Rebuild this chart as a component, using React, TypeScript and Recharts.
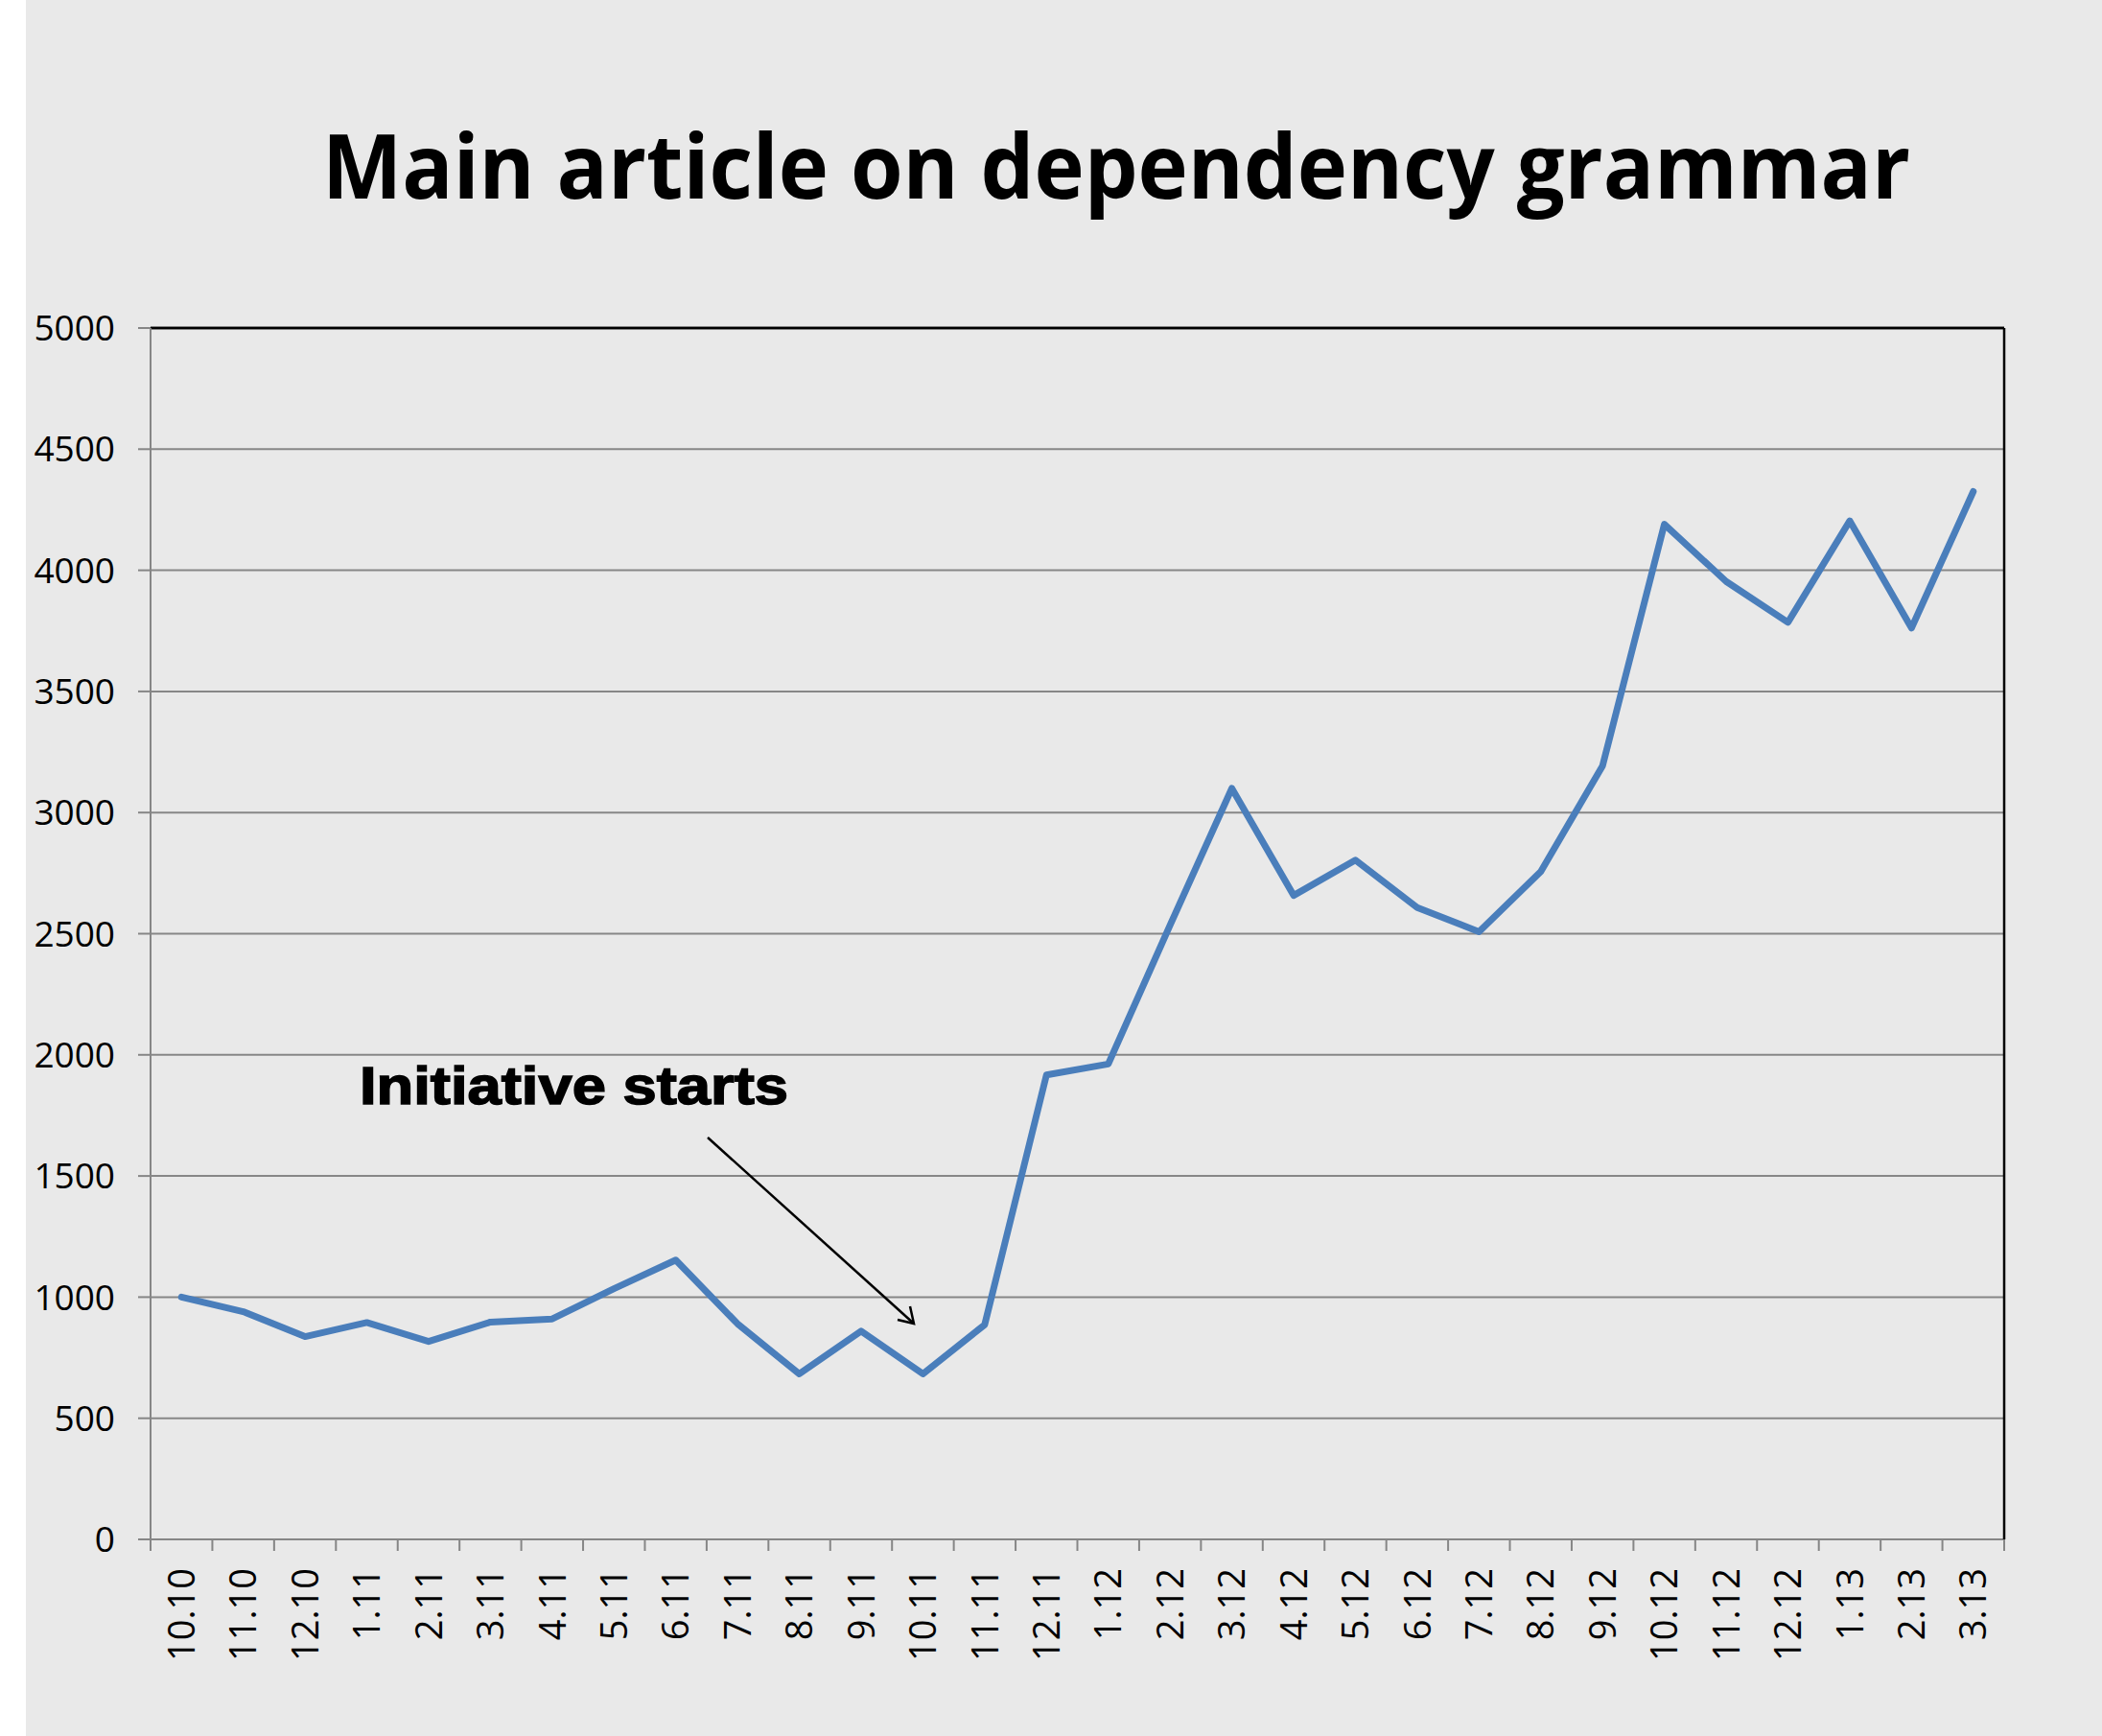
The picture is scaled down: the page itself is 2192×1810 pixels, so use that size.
import React from 'react';
import { LineChart, Line, XAxis, YAxis, CartesianGrid, ReferenceLine } from 'recharts';

// monthly page views, Oct 2010 .. Mar 2013
const months = [
  '10.10', '11.10', '12.10', '1.11', '2.11', '3.11', '4.11', '5.11', '6.11', '7.11',
  '8.11', '9.11', '10.11', '11.11', '12.11', '1.12', '2.12', '3.12', '4.12', '5.12',
  '6.12', '7.12', '8.12', '9.12', '10.12', '11.12', '12.12', '1.13', '2.13', '3.13'
];
const views = [
  1000, 940, 837, 895, 817, 897, 910, 1035, 1153, 890,
  683, 860, 683, 886, 1917, 1962, 2535, 3100, 2658, 2804,
  2608, 2508, 2756, 3193, 4190, 3954, 3785, 4204, 3762, 4325
];
const yTicks = [0, 500, 1000, 1500, 2000, 2500, 3000, 3500, 4000, 4500, 5000];

const W = 2192;
const H = 1810;
const margin = { top: 341, right: 101, left: 0, bottom: 0 };
const yAxisWidth = 157;
const band = (W - margin.right - 1 - yAxisWidth) / months.length;
const pad = { left: band / 2, right: band / 2 };

const data = months.map((m, i) => ({ month: m, views: views[i] }));

const MonthTick = (props: any) => {
  const { x, y, payload, index } = props;
  const left = x - band / 2;
  return (
    <g>
      <line x1={left} y1={y} x2={left} y2={y + 12} stroke="#868686" strokeWidth={2} />
      {index === months.length - 1 && (
        <line x1={x + band / 2} y1={y} x2={x + band / 2} y2={y + 12} stroke="#868686" strokeWidth={2} />
      )}
      <text
        x={0}
        y={0}
        transform={`translate(${x}, ${y + 30}) rotate(-90)`}
        textAnchor="end"
        dy="0.36em"
        fontFamily="'Open Sans', sans-serif"
        fontSize={38}
        fill="#000"
      >
        {payload.value}
      </text>
    </g>
  );
};

export default function App() {
  return (
    <div
      style={{
        position: 'fixed',
        top: 0,
        left: 0,
        width: W,
        height: H,
        background: '#fff',
      }}
    >
      <div style={{ position: 'absolute', left: 27, top: 0, right: 0, bottom: 0, background: '#e9e9e9' }} />
      <svg width={W} height={H} style={{ position: 'absolute', left: 0, top: 0 }}>
        <text
          x={336}
          y={207}
          textLength={1656}
          lengthAdjust="spacingAndGlyphs"
          fontFamily="'Open Sans', sans-serif"
          fontWeight={700}
          fontSize={94}
          fill="#000"
        >
          Main article on dependency grammar
        </text>
      </svg>
      <div style={{ position: 'absolute', left: 0, top: 0 }}>
        <LineChart width={W} height={H} data={data} margin={margin}>
          <CartesianGrid vertical={false} stroke="#878787" strokeWidth={2} />
          <XAxis
            dataKey="month"
            interval={0}
            height={205}
            padding={pad}
            tickSize={0}
            tickMargin={0}
            tickLine={false}
            axisLine={{ stroke: '#868686', strokeWidth: 2 }}
            tick={<MonthTick />}
          />
          <XAxis
            xAxisId="top"
            orientation="top"
            dataKey="month"
            height={1}
            padding={pad}
            tick={false}
            tickLine={false}
            axisLine={{ stroke: '#000', strokeWidth: 2.5 }}
          />
          <YAxis
            domain={[0, 5000]}
            ticks={yTicks}
            interval={0}
            width={yAxisWidth}
            tickSize={13}
            tickMargin={24}
            tickLine={{ stroke: '#868686', strokeWidth: 2 }}
            axisLine={{ stroke: '#868686', strokeWidth: 2 }}
            tick={{ fill: '#000', fontSize: 37, fontFamily: "'Open Sans', sans-serif" }}
          />
          <YAxis
            yAxisId="right"
            orientation="right"
            domain={[0, 5000]}
            width={1}
            tick={false}
            tickLine={false}
            axisLine={{ stroke: '#000', strokeWidth: 2.5 }}
          />
          <ReferenceLine y={5000} stroke="#000" strokeWidth={2.5} />
          <Line
            type="linear"
            dataKey="views"
            stroke="#4a7ebb"
            strokeWidth={7}
            strokeLinecap="round"
            strokeLinejoin="round"
            dot={false}
            activeDot={false}
            isAnimationActive={false}
          />
        </LineChart>
      </div>
      <svg width={W} height={H} style={{ position: 'absolute', left: 0, top: 0, pointerEvents: 'none' }}>
        <text
          x={375}
          y={1151}
          textLength={447}
          lengthAdjust="spacingAndGlyphs"
          fontFamily="'Liberation Sans', Arial, sans-serif"
          fontWeight={700}
          fontSize={55}
          fill="#000"
          stroke="#000"
          strokeWidth={1.5}
        >
          Initiative starts
        </text>
        <line x1={738} y1={1186} x2={953} y2={1380} stroke="#000" strokeWidth={2.5} />
        <polyline points="936,1376 953,1380 949,1362" fill="none" stroke="#000" strokeWidth={2.5} />
      </svg>
    </div>
  );
}
